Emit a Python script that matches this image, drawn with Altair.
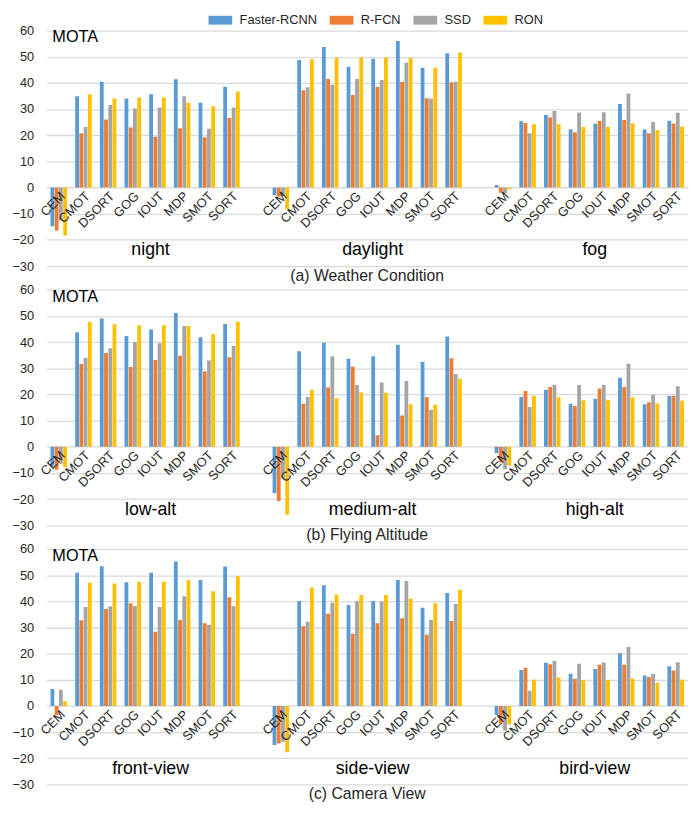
import altair as alt
import pandas as pd

trackers = ["CEM", "CMOT", "DSORT", "GOG", "IOUT", "MDP", "SMOT", "SORT"]
detectors = ["Faster-RCNN", "R-FCN", "SSD", "RON"]
colors = ["#5B9BD5", "#ED7D31", "#A5A5A5", "#FFC000"]

# (a) Weather Condition
night_frcnn = [-14.8, 34.9, 40.4, 34.0, 35.7, 41.4, 32.4, 38.5]
night_rfcn = [-16.4, 20.8, 26.0, 23.0, 19.4, 22.7, 19.2, 26.6]
night_ssd = [-12.6, 23.1, 31.6, 30.2, 30.6, 34.9, 22.5, 30.6]
night_ron = [-18.3, 35.7, 34.0, 34.4, 34.4, 32.4, 31.1, 36.7]

daylight_frcnn = [-2.9, 48.7, 53.7, 46.2, 49.2, 56.0, 45.8, 51.3]
daylight_rfcn = [-3.5, 37.2, 41.5, 35.4, 38.5, 40.4, 34.1, 40.2]
daylight_ssd = [-3.2, 38.3, 39.3, 41.5, 41.1, 47.7, 33.9, 40.4]
daylight_ron = [-8.3, 49.0, 49.5, 49.7, 49.7, 49.5, 45.8, 51.6]

fog_frcnn = [1.0, 25.3, 27.7, 22.3, 24.4, 31.9, 22.2, 25.5]
fog_rfcn = [-2.0, 24.7, 26.8, 21.1, 25.4, 25.8, 20.8, 24.5]
fog_ssd = [-2.2, 20.8, 29.3, 28.7, 28.8, 35.9, 25.1, 28.6]
fog_ron = [-0.6, 24.2, 24.2, 23.1, 23.1, 24.6, 22.0, 23.2]

# (b) Flying Altitude
lowalt_frcnn = [-7.5, 43.8, 49.0, 42.3, 44.8, 51.1, 41.8, 46.9]
lowalt_rfcn = [-8.8, 31.6, 35.8, 30.5, 33.2, 34.8, 28.8, 34.2]
lowalt_ssd = [-6.5, 34.0, 37.6, 40.0, 39.6, 46.1, 33.0, 38.5]
lowalt_ron = [-7.8, 47.8, 46.8, 46.4, 46.4, 46.1, 43.1, 47.8]

medalt_frcnn = [-17.8, 36.5, 39.7, 33.6, 34.6, 39.0, 32.5, 42.1]
medalt_rfcn = [-20.7, 16.4, 22.6, 30.6, 4.4, 11.9, 18.9, 33.8]
medalt_ssd = [-12.0, 19.0, 34.6, 23.6, 24.6, 25.1, 14.1, 27.8]
medalt_ron = [-26.0, 21.8, 18.5, 20.7, 20.6, 16.2, 16.1, 26.0]

highalt_frcnn = [-2.5, 19.0, 21.8, 16.4, 18.3, 26.4, 16.2, 19.4]
highalt_rfcn = [-6.0, 21.3, 22.8, 15.6, 22.3, 22.8, 17.0, 19.5]
highalt_ssd = [-8.6, 15.2, 23.7, 23.6, 23.6, 31.7, 19.9, 23.1]
highalt_ron = [-7.2, 19.4, 18.9, 17.8, 17.8, 18.9, 16.5, 17.6]

# (c) Camera View
front_frcnn = [6.5, 50.9, 53.4, 47.3, 50.9, 55.2, 48.1, 53.3]
front_rfcn = [-3.5, 32.7, 37.0, 39.2, 28.4, 32.8, 31.6, 41.5]
front_ssd = [6.2, 37.8, 38.1, 38.2, 37.8, 41.9, 31.0, 38.1]
front_ron = [1.8, 47.1, 46.8, 47.5, 47.5, 48.0, 43.8, 49.6]

side_frcnn = [-14.9, 40.1, 46.1, 38.6, 40.1, 48.1, 37.5, 43.2]
side_rfcn = [-14.3, 30.5, 35.2, 27.6, 31.6, 33.5, 27.2, 32.5]
side_ssd = [-13.7, 32.2, 39.4, 40.0, 39.9, 47.7, 32.9, 39.0]
side_ron = [-17.7, 45.3, 42.5, 42.4, 42.4, 41.0, 39.2, 44.3]

bird_frcnn = [-3.5, 13.7, 16.5, 12.3, 14.1, 20.1, 11.6, 15.2]
bird_rfcn = [-6.7, 14.6, 15.9, 10.4, 15.7, 15.7, 11.1, 13.5]
bird_ssd = [-9.5, 5.8, 17.3, 16.1, 16.6, 22.5, 12.2, 16.7]
bird_ron = [-7.0, 10.1, 10.9, 9.9, 9.9, 10.5, 8.9, 10.1]

panels = [
    ("(a) Weather Condition", [
        ("night", [night_frcnn, night_rfcn, night_ssd, night_ron]),
        ("daylight", [daylight_frcnn, daylight_rfcn, daylight_ssd, daylight_ron]),
        ("fog", [fog_frcnn, fog_rfcn, fog_ssd, fog_ron]),
    ]),
    ("(b) Flying Altitude", [
        ("low-alt", [lowalt_frcnn, lowalt_rfcn, lowalt_ssd, lowalt_ron]),
        ("medium-alt", [medalt_frcnn, medalt_rfcn, medalt_ssd, medalt_ron]),
        ("high-alt", [highalt_frcnn, highalt_rfcn, highalt_ssd, highalt_ron]),
    ]),
    ("(c) Camera View", [
        ("front-view", [front_frcnn, front_rfcn, front_ssd, front_ron]),
        ("side-view", [side_frcnn, side_rfcn, side_ssd, side_ron]),
        ("bird-view", [bird_frcnn, bird_rfcn, bird_ssd, bird_ron]),
    ]),
]

FONT = "Liberation Sans"
TXT = "#262626"
W, H = 651, 239

legend = alt.Legend(
    title=None, orient="none", direction="horizontal", legendX=170, legendY=-17,
    symbolType="M-2,-0.75H2V0.75H-2Z", symbolSize=144, symbolStrokeWidth=0,
    labelFont=FONT, labelFontSize=13, labelColor=TXT, labelOffset=13,
    columnPadding=12, padding=0, gridAlign="none",
)

x_axis = alt.Axis(
    labelExpr="indexof(datum.value,'|')>=0 ? split(datum.value,'|')[1] : ''",
    labelAngle=-45, labelFont=FONT, labelFontSize=13, labelColor=TXT,
    labelPadding=2, domain=False, ticks=False, grid=False, title=None,
    offset=-H * 30 / 90, zindex=1, labelOverlap=False)

y_axis = alt.Axis(
    values=list(range(-30, 61, 10)), labelFont=FONT, labelFontSize=13,
    labelColor=TXT, labelPadding=13, labelOverlap=False, title=None,
    domain=False, ticks=False, gridColor="#D9D9D9", gridWidth=1.3)


def make_panel(caption, groups):
    rows, domain, grp = [], [], []
    for gi, (cond, series) in enumerate(groups):
        domain += [f"{cond}|{t}" for t in trackers]
        if gi < len(groups) - 1:
            domain.append(f"gap{gi}")
        grp.append({"slot": f"{cond}|IOUT", "label": cond, "value": -24})
        for det, vals in zip(detectors, series):
            for t, v in zip(trackers, vals):
                rows.append({"slot": f"{cond}|{t}", "detector": det, "value": v})
    df = pd.DataFrame(rows)
    gdf = pd.DataFrame(grp)

    xscale = alt.Scale(domain=domain, paddingInner=0.33, paddingOuter=0.165)
    yscale = alt.Scale(domain=[-30, 60], nice=False)

    bars = alt.Chart(df).mark_bar(clip=True).encode(
        x=alt.X("slot:N", scale=xscale, sort=domain, title=None, axis=x_axis),
        xOffset=alt.XOffset("detector:N", sort=detectors,
                            scale=alt.Scale(domain=detectors, paddingInner=0.1)),
        y=alt.Y("value:Q", scale=yscale, title=None, axis=y_axis),
        color=alt.Color("detector:N", sort=detectors,
                        scale=alt.Scale(domain=detectors, range=colors), legend=legend),
    )

    glabels = alt.Chart(gdf).mark_text(
        font=FONT, fontSize=18, color="#000000", baseline="middle", align="center", dx=-7
    ).encode(
        x=alt.X("slot:N", scale=xscale, sort=domain, title=None, axis=x_axis),
        y=alt.Y("value:Q", scale=yscale, title=None, axis=y_axis),
        text="label:N",
    )

    mota = alt.Chart(pd.DataFrame({"t": ["MOTA"]})).mark_text(
        font=FONT, fontSize=16.5, color="#000000", align="left", baseline="top"
    ).encode(x=alt.value(6), y=alt.value(-1), text="t:N")

    return alt.layer(bars, glabels, mota).properties(
        width=W, height=H,
        title=alt.TitleParams(caption, orient="bottom", anchor="middle", frame="group",
                              font=FONT, fontSize=16, fontWeight="normal",
                              color=TXT, offset=-5),
    )


chart = alt.vconcat(*[make_panel(c, g) for c, g in panels], spacing=0).resolve_scale(
    color="shared", x="independent", y="independent"
).properties(
    padding={"left": 3, "top": 0, "right": 0, "bottom": 0}
).configure_view(stroke=None)

chart.save("out.html", embed_options={"renderer": "svg", "actions": False})
